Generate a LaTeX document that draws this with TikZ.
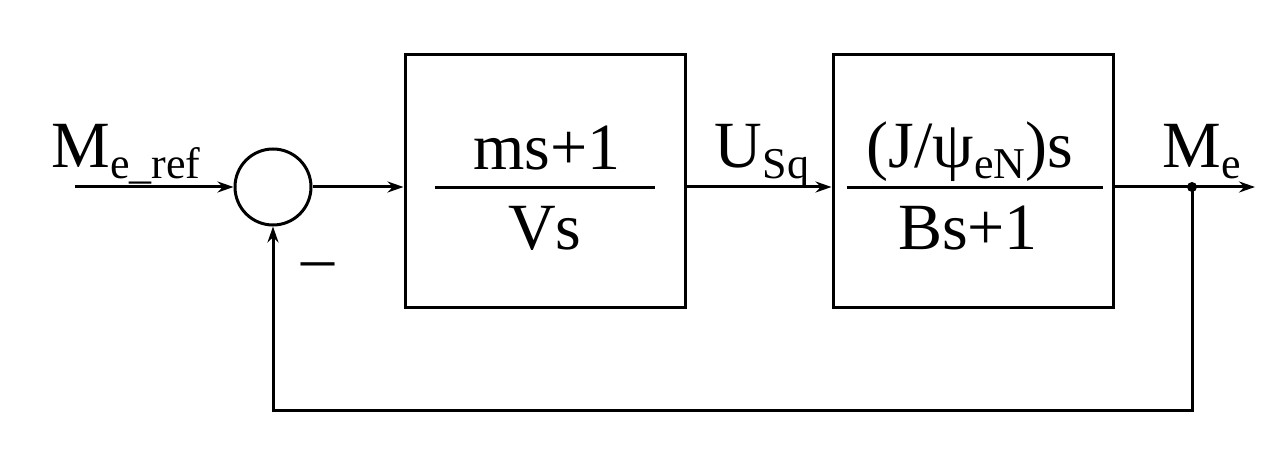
\documentclass[tikz,border=0pt]{standalone}
\usepackage{fontspec}
\setmainfont{Liberation Serif}
\usetikzlibrary{arrows.meta}
\newcommand{\sbx}[1]{\raisebox{-11pt}{\fontsize{44}{48}\selectfont #1}}
\begin{document}
\begin{tikzpicture}[x=1pt,y=-1pt,line width=3pt,
  arr/.style={-{Stealth[length=16pt,width=11pt]}},
  blk/.style={draw,minimum width=280pt,minimum height=253pt,inner sep=0pt},
  big/.style={font=\fontsize{66}{72}\selectfont,inner sep=0pt}]
\useasboundingbox (0,0) rectangle (1286,449);
\node[draw,circle,minimum size=76pt,inner sep=0pt] (sum) at (273,187) {};
\node[blk] (b1) at (545,181.5) {};
\node[blk] (b2) at (973,181.5) {};
\coordinate (in) at (75,187);
\coordinate (out) at (1255,187);
\coordinate (tap) at (1192,187);
\coordinate (fb1) at (1192,410);
\coordinate (fb2) at (273,410);
\draw[arr] (in) -- (sum.west);
\draw[arr] (sum.east) -- (b1.west |- sum.east);
\draw[arr] (b1.east |- sum.east) -- (b2.west |- sum.east);
\draw[arr] (b2.east |- sum.east) -- (out);
\fill (tap) circle (5pt);
\draw[arr] (tap) -- (fb1) -- (fb2) -- (sum.south);
% fractions
\draw (435,188) -- (655,188);
\node[big,anchor=base] (n1) at (547,170) {ms+1};
\node[big,anchor=base] (d1) at (545,250) {Vs};
\draw (847,188) -- (1103,188);
\node[big,anchor=base] (n2) at (970,168) {(J/ψ\sbx{eN})s};
\node[big,anchor=base] (d2) at (968,250) {Bs+1};
% labels
\node[big,anchor=base] (l1) at (126,168) {M\sbx{e\_ref}};
\node[big,anchor=base] (l2) at (762,168) {U\sbx{Sq}};
\node[big,anchor=base] (l3) at (1202,168) {M\sbx{e}};
\node[big,anchor=base] (mn) at (318,258) {\_};
\end{tikzpicture}
\end{document}
